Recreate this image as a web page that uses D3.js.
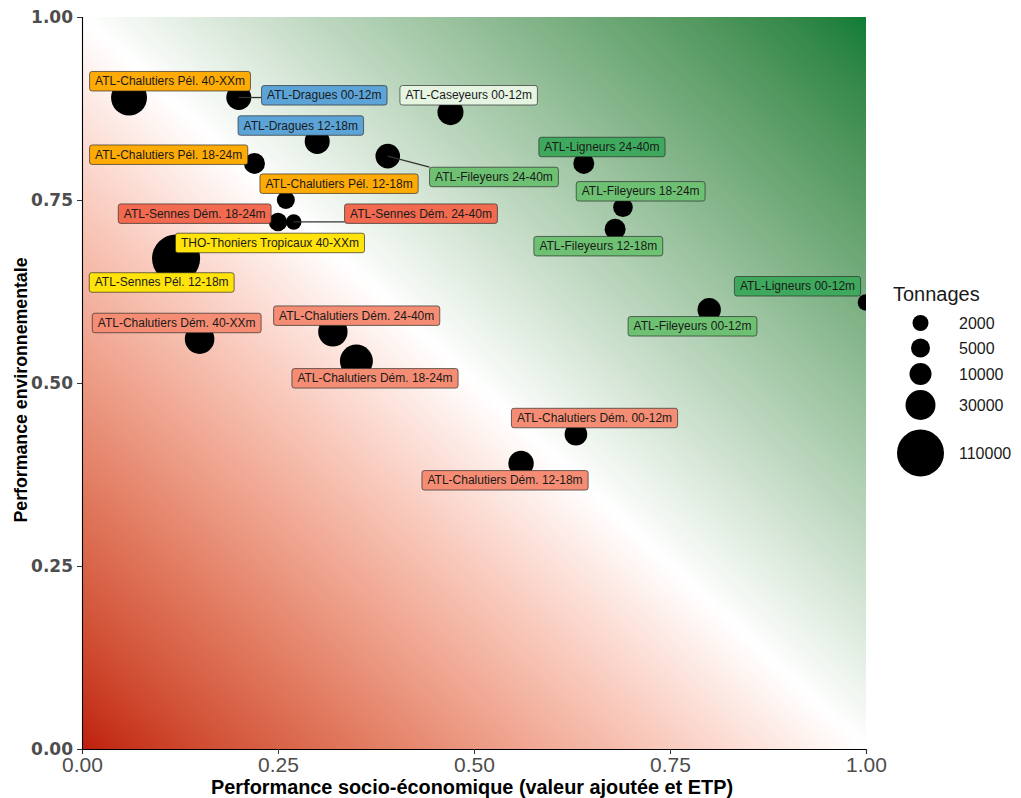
<!DOCTYPE html>
<html><head><meta charset="utf-8">
<script src="https://cdn.jsdelivr.net/npm/d3@7"></script>
<style>body{margin:0;background:#fff;} svg{display:block;}</style>
</head><body>
<svg id="chart" width="1021" height="798"></svg>
<script>
// ---------- DATA ----------
const fleets = [
  "ATL-Chalutiers Pél. 40-XXm", "ATL-Dragues 00-12m", "ATL-Caseyeurs 00-12m", "ATL-Dragues 12-18m",
  "ATL-Chalutiers Pél. 18-24m", "ATL-Chalutiers Pél. 12-18m", "ATL-Sennes Dém. 18-24m", "ATL-Sennes Dém. 24-40m",
  "THO-Thoniers Tropicaux 40-XXm", "ATL-Sennes Pél. 12-18m", "ATL-Chalutiers Dém. 40-XXm", "ATL-Chalutiers Dém. 24-40m",
  "ATL-Chalutiers Dém. 18-24m", "ATL-Fileyeurs 24-40m", "ATL-Ligneurs 24-40m", "ATL-Fileyeurs 18-24m",
  "ATL-Fileyeurs 12-18m", "ATL-Ligneurs 00-12m", "ATL-Fileyeurs 00-12m", "ATL-Chalutiers Dém. 00-12m",
  "ATL-Chalutiers Dém. 12-18m"
];
const socioEco = [0.06, 0.20, 0.47, 0.30, 0.22, 0.26, 0.25, 0.27, 0.12, 0.12, 0.15, 0.32, 0.35, 0.39, 0.64, 0.69, 0.68, 1.00, 0.80, 0.63, 0.56];
const environ  = [0.89, 0.89, 0.87, 0.83, 0.80, 0.75, 0.72, 0.72, 0.67, 0.66, 0.56, 0.57, 0.53, 0.81, 0.80, 0.74, 0.71, 0.61, 0.60, 0.43, 0.39];
const tonnages = [58000, 17500, 20000, 17500, 8300, 4000, 4400, 1500, 115000, 20000, 29000, 28500, 44000, 16500, 8300, 6000, 8300, 2600, 13500, 11500, 18500];
const groups = [
  "Chalutiers Pél.", "Dragues", "Caseyeurs", "Dragues", "Chalutiers Pél.", "Chalutiers Pél.", "Sennes Dém.", "Sennes Dém.",
  "Pélagiques", "Pélagiques", "Chalutiers Dém.", "Chalutiers Dém.", "Chalutiers Dém.", "Fileyeurs", "Ligneurs", "Fileyeurs",
  "Fileyeurs", "Ligneurs", "Fileyeurs", "Chalutiers Dém.", "Chalutiers Dém."
];
const groupNames = ["Chalutiers Pél.", "Dragues", "Caseyeurs", "Fileyeurs", "Ligneurs", "Sennes Dém.", "Chalutiers Dém.", "Pélagiques"];
const groupFills = ["#FFAB05", "#5CA4D8", "#E6F4E2", "#6EC172", "#3EA95C", "#F26A50", "#F58D74", "#FFE30A"];
const axisTicks = [0, 0.25, 0.5, 0.75, 1];
const legendTonnages = [2000, 5000, 10000, 30000, 110000];
const legendRadii = [8, 9.5, 11, 15, 23.5];

// ---------- LAYOUT (label placement offsets, px, from point centre) ----------
const labelNudge = [
  [41, -16.3], [85.5, -2.2], [18.2, -16.9], [-16.4, -15.9], [-85.8, -8.7], [53.2, -16.3], [-83.3, -8.3], [127.3, -8.3],
  [93.9, -15.6], [-14.4, 16.6], [-22.9, -16.1], [23.8, -16.1], [18.6, 17.3], [106.2, 20.9], [18.2, -16.4], [17.7, -16],
  [-16.8, 16.9], [-68.5, -16.2], [-16.7, 16.5], [18.6, -16.2], [-16, 16.8]
];

// ---------- CHART ----------
const svg = d3.select("#chart");
const x = d3.scaleLinear().domain([0, 1]).range([82, 866]);
const y = d3.scaleLinear().domain([0, 1]).range([749, 17]);
const r = d3.scaleLinear().domain(legendTonnages).range(legendRadii);
const fill = d3.scaleOrdinal().domain(groupNames).range(groupFills);

const defs = svg.append("defs");
const grad = defs.append("linearGradient").attr("id", "bg")
  .attr("x1", 0).attr("y1", 1).attr("x2", 1).attr("y2", 0);
const low = "#BF1E0E", mid = "#FFFFFF", high = "#0E7C36";
d3.range(0, 1.0001, 0.025).forEach(t => {
  const c = t < 0.5 ? d3.interpolateLab(low, mid)(t * 2) : d3.interpolateLab(mid, high)((t - 0.5) * 2);
  grad.append("stop").attr("offset", t).attr("stop-color", c);
});
defs.append("clipPath").attr("id", "panel").append("rect")
  .attr("x", x(0)).attr("y", y(1)).attr("width", x(1) - x(0)).attr("height", y(0) - y(1));

svg.append("rect").attr("x", x(0)).attr("y", y(1))
  .attr("width", x(1) - x(0)).attr("height", y(0) - y(1)).attr("fill", "url(#bg)");

const data = fleets.map((name, i) => ({
  name, sx: socioEco[i], ey: environ[i], t: tonnages[i], g: groups[i], nudge: labelNudge[i]
}));

const plot = svg.append("g").attr("clip-path", "url(#panel)");
plot.selectAll("circle.pt").data(data).join("circle").attr("class", "pt")
  .attr("cx", d => x(d.sx)).attr("cy", d => y(d.ey)).attr("r", d => r(d.t)).attr("fill", "#000");

const labG = plot.append("g");
const segG = labG.append("g");
data.forEach(d => {
  const px = x(d.sx), py = y(d.ey);
  const cx = px + d.nudge[0], cy = py + d.nudge[1];
  const g = labG.append("g");
  const rect = g.append("rect");
  const txt = g.append("text").text(d.name)
    .attr("x", cx).attr("y", cy).attr("text-anchor", "middle").attr("dominant-baseline", "central")
    .attr("font-family", "Liberation Sans, Arial, sans-serif").attr("font-size", 12).attr("fill", "#1a1a1a");
  const w = txt.node().getComputedTextLength() + 11, h = 19.5;
  const bx0 = cx - w / 2, by0 = cy - h / 2;
  rect.attr("x", bx0).attr("y", by0).attr("width", w).attr("height", h).attr("rx", 2.5)
    .attr("fill", fill(d.g)).attr("stroke", "#2b2b2b").attr("stroke-width", 0.8).attr("stroke-opacity", 0.85);
  const nx = Math.max(bx0, Math.min(px, bx0 + w)), ny = Math.max(by0, Math.min(py, by0 + h));
  const dist = Math.hypot(nx - px, ny - py);
  if (dist > r(d.t) + 2) {
    segG.append("line").attr("x1", px).attr("y1", py).attr("x2", nx).attr("y2", ny)
      .attr("stroke", "#333").attr("stroke-width", 1.3);
  }
});

// axes
const xAxis = svg.append("g").attr("transform", `translate(0,${y(0)})`)
  .call(d3.axisBottom(x).tickValues(axisTicks).tickFormat(d3.format(".2f")).tickSizeOuter(0).tickSize(5).tickPadding(3));
xAxis.select(".domain").attr("stroke", "#000").attr("stroke-width", 1.1);
xAxis.selectAll(".tick line").attr("stroke", "#333");
xAxis.selectAll(".tick text").attr("font-family", "Liberation Sans, Arial, sans-serif")
  .attr("font-size", 21).attr("fill", "#4D4D4D").attr("dy", "0.72em");

const yAxis = svg.append("g").attr("transform", `translate(${x(0)},0)`)
  .call(d3.axisLeft(y).tickValues(axisTicks).tickFormat(d3.format(".2f")).tickSizeOuter(0).tickSize(5).tickPadding(4));
yAxis.select(".domain").attr("stroke", "#000").attr("stroke-width", 1.1);
yAxis.selectAll(".tick line").attr("stroke", "#333");
yAxis.selectAll(".tick text").attr("font-family", "DejaVu Sans, sans-serif").attr("font-weight", "bold")
  .attr("font-size", 17).attr("fill", "#4D4D4D");

// axis titles
svg.append("text").attr("x", 472).attr("y", 794).attr("text-anchor", "middle")
  .attr("font-family", "Liberation Sans, Arial, sans-serif").attr("font-weight", "bold").attr("font-size", 20)
  .attr("textLength", 522).attr("lengthAdjust", "spacingAndGlyphs")
  .text("Performance socio-économique (valeur ajoutée et ETP)");
svg.append("text").attr("transform", "translate(27,390) rotate(-90)").attr("text-anchor", "middle")
  .attr("font-family", "Liberation Sans, Arial, sans-serif").attr("font-weight", "bold").attr("font-size", 19)
  .attr("textLength", 265).attr("lengthAdjust", "spacingAndGlyphs")
  .text("Performance environnementale");

// legend
const leg = svg.append("g");
leg.append("text").attr("x", 893).attr("y", 301).attr("font-family", "Liberation Sans, Arial, sans-serif")
  .attr("font-size", 20).attr("fill", "#1a1a1a").text("Tonnages");
const legY = d3.scalePoint().domain(legendTonnages).range([0, 1]);
const legCentres = [323, 348, 374, 405, 453];
legendTonnages.forEach((v, i) => {
  leg.append("circle").attr("cx", 920.5).attr("cy", legCentres[i]).attr("r", r(v)).attr("fill", "#000");
  leg.append("text").attr("x", 959).attr("y", legCentres[i]).attr("dominant-baseline", "central")
    .attr("font-family", "Liberation Sans, Arial, sans-serif").attr("font-size", 16).attr("fill", "#1a1a1a").text(v);
});
</script>
</body></html>
